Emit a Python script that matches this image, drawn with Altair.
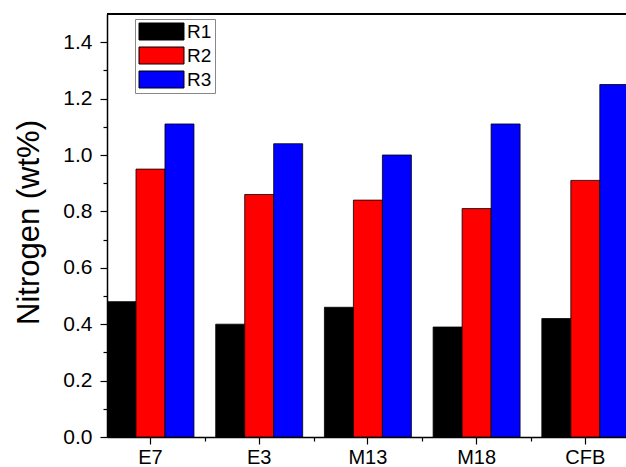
import altair as alt
import pandas as pd

categories = ["E7", "E3", "M13", "M18", "CFB"]
series = ["R1", "R2", "R3"]
r1 = [0.48, 0.40, 0.46, 0.39, 0.42]
r2 = [0.95, 0.86, 0.84, 0.81, 0.91]
r3 = [1.11, 1.04, 1.00, 1.11, 1.25]
colors = ["#000000", "#ff0000", "#0000ff"]
y_major = [0.0, 0.2, 0.4, 0.6, 0.8, 1.0, 1.2, 1.4]
y_minor = [0.1, 0.3, 0.5, 0.7, 0.9, 1.1, 1.3]

rows = []
for name, vals in zip(series, [r1, r2, r3]):
    for c, v in zip(categories, vals):
        rows.append({"cat": c, "series": name, "value": v})
df = pd.DataFrame(rows)

FONT = "Liberation Sans"
W = 519
H = 423
STEP_RANGE = 521.8
half_gap = STEP_RANGE / 4.8 * 0.2 / 2

xscale = alt.Scale(domain=categories, paddingInner=0.2, paddingOuter=0, range=[0, STEP_RANGE])
yscale = alt.Scale(domain=[0, 1.5], nice=False, zero=True)

bars = alt.Chart(df).mark_bar(clip=True, stroke="black", strokeWidth=0.8).encode(
    x=alt.X("cat:N", sort=categories, scale=xscale,
            axis=alt.Axis(title=None, labelAngle=0, tickSize=7, labelPadding=3,
                          labelFontSize=20, labelFont=FONT, labelColor="black",
                          domainColor="black", domainWidth=1.5, tickColor="black",
                          tickWidth=1.2, orient="bottom")),
    xOffset=alt.XOffset("series:N", sort=series, scale=alt.Scale(paddingInner=0, paddingOuter=0)),
    y=alt.Y("value:Q", scale=yscale,
            axis=alt.Axis(title="Nitrogen (wt%)", values=y_major, format=".1f",
                          tickSize=7, labelPadding=8, labelFontSize=21, labelFont=FONT,
                          labelColor="black", domainColor="black", domainWidth=1.5,
                          tickColor="black", tickWidth=1.2, grid=False, orient="left",
                          titleFont=FONT, titleFontSize=31, titleFontWeight="normal",
                          titleColor="black", titleAngle=270, titleAlign="center",
                          titleBaseline="alphabetic", titleX=-69, titleY=208)),
    color=alt.Color("series:N", sort=series,
                    scale=alt.Scale(domain=series, range=colors),
                    legend=alt.Legend(title=None, orient="none", legendX=28, legendY=5,
                                      symbolType="M-2.647,-1L2.647,-1L2.647,1L-2.647,1Z",
                                      symbolSize=289, symbolStrokeColor="black",
                                      symbolStrokeWidth=1, labelFontSize=19,
                                      labelFont=FONT, labelColor="black",
                                      strokeColor="#888888", fillColor="white",
                                      padding=3, rowPadding=3, labelOffset=16,
                                      symbolOffset=14)),
)

minor = alt.Chart(df).mark_bar(opacity=0).encode(
    x=alt.X("cat:N", sort=categories, scale=xscale,
            axis=alt.Axis(title=None, labels=False, domain=False, tickSize=4,
                          tickColor="black", tickWidth=1.2, bandPosition=1,
                          tickOffset=half_gap, orient="bottom")),
    y=alt.Y("value:Q", scale=yscale,
            axis=alt.Axis(title=None, labels=False, domain=False, tickSize=4,
                          tickColor="black", tickWidth=1.2, values=y_minor,
                          grid=False, orient="left")),
)

top = alt.Chart(df).mark_rule(color="black", strokeWidth=1.5).encode(y=alt.value(0))

chart = alt.layer(bars, minor, top).resolve_axis(x="independent", y="independent").properties(
    width=W, height=H,
    autosize=alt.AutoSizeParams(type="none"),
    padding={"left": 107, "top": 14, "right": 0, "bottom": 30},
    background="white",
).configure_view(stroke=None)

chart.save("out.html", embed_options={"renderer": "svg", "actions": False})
